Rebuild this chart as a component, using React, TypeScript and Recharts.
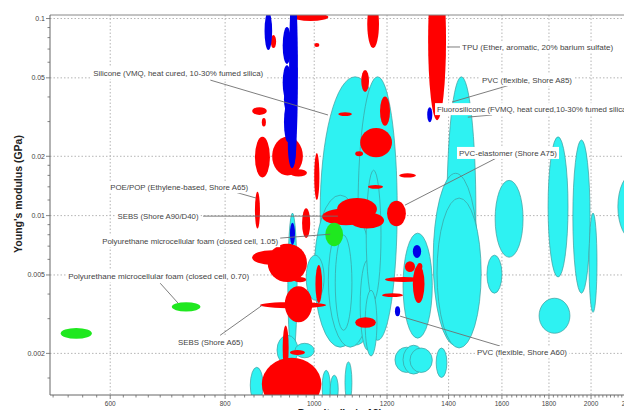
import React from "react";
import {
  ScatterChart,
  XAxis,
  YAxis,
  CartesianGrid,
  ReferenceArea,
  ReferenceLine,
  ReferenceDot,
} from "recharts";

// Each ellipse: [density low, density high, modulus low, modulus high]  (kg/m^3, GPa)
type Box = [number, number, number, number];

const cyanEllipses: Box[] = [
  [1015, 1209, 0.0022, 0.0506],
  [1116, 1231, 0.00233, 0.0506],
  [1000, 1139, 0.00215, 0.0127],
  [1036, 1156, 0.00215, 0.0104],
  [1054, 1099, 0.00262, 0.00796],
  [1122, 1164, 0.00208, 0.00594],
  [1139, 1182, 0.00372, 0.017],
  [1136, 1170, 0.00194, 0.00418],
  [1249, 1344, 0.00239, 0.00815],
  [980, 1025, 0.00372, 0.0063],
  [936, 958, 0.00194, 0.0103],
  [911, 960, 0.00175, 0.00247],
  [953, 1000, 0.0019, 0.00225],
  [852, 880, 0.00112, 0.0017],
  [1020, 1041, 0.00112, 0.00164],
  [1041, 1062, 0.00112, 0.00155],
  [1080, 1099, 0.00112, 0.00181],
  [1394, 1499, 0.0022, 0.0506],
  [1347, 1507, 0.0022, 0.0164],
  [1360, 1519, 0.00213, 0.01228],
  [1573, 1687, 0.00615, 0.0151],
  [1541, 1600, 0.00404, 0.0063],
  [1796, 1888, 0.00488, 0.0251],
  [1911, 1995, 0.00404, 0.0242],
  [1990, 2030, 0.00323, 0.0103],
  [1756, 1897, 0.00253, 0.00381],
  [2139, 2318, 0.00751, 0.0164],
  [1224, 1297, 0.0016, 0.00215],
  [1249, 1317, 0.00157, 0.0022],
  [1271, 1344, 0.0016, 0.00213],
  [1357, 1394, 0.00151, 0.00213],
];

const redEllipses: Box[] = [
  [1330, 1391, 0.0305, 0.198],
  [948, 1036, 0.0971, 0.1066],
  [1000, 1013, 0.0716, 0.0751],
  [897, 909, 0.0708, 0.0825],
  [856, 888, 0.0324, 0.0355],
  [877, 886, 0.0283, 0.0313],
  [862, 895, 0.0156, 0.0251],
  [900, 972, 0.016, 0.0251],
  [941, 982, 0.0158, 0.0172],
  [1000, 1013, 0.012, 0.0208],
  [862, 873, 0.0086, 0.0132],
  [970, 990, 0.00771, 0.0109],
  [856, 946, 0.00562, 0.00668],
  [890, 982, 0.0046, 0.0072],
  [950, 980, 0.00459, 0.00488],
  [1003, 1020, 0.0036, 0.00562],
  [929, 995, 0.00288, 0.00438],
  [873, 1030, 0.00339, 0.00364],
  [924, 938, 0.00164, 0.00277],
  [941, 977, 0.00196, 0.00208],
  [877, 1018, 0.00103, 0.0019],
  [918, 932, 0.00112, 0.0016],
  [1122, 1215, 0.0198, 0.0278],
  [1108, 1130, 0.02, 0.0212],
  [1179, 1209, 0.0286, 0.0402],
  [1125, 1147, 0.0424, 0.0548],
  [1142, 1176, 0.0708, 0.124],
  [1062, 1099, 0.032, 0.0335],
  [1237, 1290, 0.0156, 0.0164],
  [1144, 1188, 0.0137, 0.0143],
  [1059, 1170, 0.00949, 0.0123],
  [1020, 1150, 0.00894, 0.0109],
  [1094, 1191, 0.0086, 0.0104],
  [1200, 1258, 0.00884, 0.0119],
  [1255, 1287, 0.00517, 0.00587],
  [1280, 1318, 0.0036, 0.00562],
  [1194, 1311, 0.0046, 0.00488],
  [1185, 1249, 0.00386, 0.00404],
  [1108, 1167, 0.0027, 0.00305],
  [1294, 1311, 0.00529, 0.00575],
];

const blueEllipses: Box[] = [
  [883, 900, 0.0692, 0.108],
  [939, 960, 0.018, 0.157],
  [924, 944, 0.0588, 0.0905],
  [924, 944, 0.0386, 0.058],
  [927, 944, 0.0335, 0.0454],
  [927, 946, 0.0236, 0.0377],
  [936, 956, 0.0174, 0.0305],
  [941, 953, 0.0071, 0.0092],
  [1327, 1344, 0.0298, 0.0355],
  [1280, 1307, 0.0061, 0.0071],
  [1224, 1240, 0.00309, 0.00347],
];

const greenEllipses: Box[] = [
  [1028, 1075, 0.00699, 0.0092],
  [700, 752, 0.00326, 0.00364],
  [530, 573, 0.00237, 0.00269],
];

// label text, anchor (density, modulus), leader line from -> to
const labelTexts = [
  "Silicone (VMQ, heat cured, 10-30% fumed silica)",
  "TPU (Ether, aromatic, 20% barium sulfate)",
  "PVC (flexible, Shore A85)",
  "Fluorosilicone (FVMQ, heat cured,10-30% fumed silica)",
  "PVC-elastomer (Shore A75)",
  "POE/POP (Ethylene-based, Shore A65)",
  "SEBS (Shore A90/D40)",
  "Polyurethane microcellular foam (closed cell, 1.05)",
  "Polyurethane microcellular foam (closed cell, 0.70)",
  "SEBS (Shore A65)",
  "PVC (flexible, Shore A60)",
];
const labelAnchors: [number, number][] = [
  [575, 0.0529],
  [1448, 0.0717],
  [1522, 0.0487],
  [1360, 0.0347],
  [1437, 0.0208],
  [600, 0.01395],
  [611, 0.00994],
  [588, 0.00742],
  [540, 0.00493],
  [711, 0.00228],
  [1503, 0.00203],
];
const leaderLines: [number, number, number, number][] = [
  [771, 0.0487, 1035, 0.0324],
  [1394, 0.0717, 1441, 0.0717],
  [1633, 0.046, 1412, 0.0377],
  [1561, 0.0324, 1469, 0.0316],
  [1585, 0.0198, 1255, 0.0113],
  [814, 0.0133, 865, 0.01227],
  [757, 0.00994, 1061, 0.00994],
  [918, 0.00769, 1041, 0.00805],
  [680, 0.00454, 711, 0.0036],
  [790, 0.00247, 878, 0.00351],
  [1592, 0.00218, 1240, 0.00309],
];
// measured text widths in px (style)
const labelWidths = [170, 151, 90, 192, 98, 138, 81, 176, 181, 65, 90];

const xMajor = [600, 800, 1000, 1200, 1400, 1600, 1800, 2000, 2200];
const yMajor = [0.002, 0.005, 0.01, 0.02, 0.05, 0.1];
const yMinor = [
  0.0015, 0.003, 0.004, 0.006, 0.007, 0.008, 0.009, 0.012, 0.014, 0.016,
  0.018, 0.03, 0.04, 0.06, 0.07, 0.08, 0.09,
];
const xMinor = Array.from({ length: 85 }, (_, i) => 520 + i * 20).filter(
  (v) => !xMajor.includes(v)
);

const X_DOMAIN: [number, number] = [516, 2216];
const Y_DOMAIN: [number, number] = [0.00123, 0.1042];

// plot box in pixels (margin + axis sizes below)
const PLOT = { x: 50, y: 15, w: 582, h: 380 };

const FONT = "'Liberation Sans', Arial, sans-serif";
const CYAN = "#2ef2f2";
const CYAN_EDGE = "#3f9c9c";
const RED = "#ff0000";
const BLUE = "#0000e8";
const GREEN = "#1fe81f";

const ellipse = (fill: string, stroke: string | undefined, id: string) => (p: any) => {
  const { x, y, width, height } = p;
  return (
    <g>
      <defs>
        <clipPath id={id}>
          <rect x={PLOT.x} y={PLOT.y} width={PLOT.w} height={PLOT.h} />
        </clipPath>
      </defs>
      <ellipse
        clipPath={`url(#${id})`}
        cx={x + width / 2}
        cy={y + height / 2}
        rx={Math.abs(width) / 2}
        ry={Math.abs(height) / 2}
        fill={fill}
        stroke={stroke || "none"}
        strokeWidth={stroke ? 0.7 : 0}
      />
    </g>
  );
};

const XTick = (props: any) => {
  const { x, y, payload } = props;
  const major = xMajor.includes(payload.value);
  return (
    <g>
      <line x1={x} x2={x} y1={y} y2={y + (major ? 4 : 2.5)} stroke="#666" strokeWidth={0.8} />
      {major && (
        <text x={x} y={y + 10.5} textAnchor="middle" fontSize={6.5} fill="#444" fontFamily={FONT}>
          {payload.value}
        </text>
      )}
    </g>
  );
};

const YTick = (props: any) => {
  const { x, y, payload } = props;
  const major = yMajor.includes(payload.value);
  return (
    <g>
      <line x1={x - (major ? 4 : 2.5)} x2={x} y1={y} y2={y} stroke="#666" strokeWidth={0.8} />
      {major && (
        <text x={x - 5} y={y + 2.5} textAnchor="end" fontSize={7} fill="#444" fontFamily={FONT}>
          {String(payload.value)}
        </text>
      )}
    </g>
  );
};

const renderGroup = (boxes: Box[], fill: string, stroke: string | undefined, prefix: string) =>
  boxes.map((b, i) => (
    <ReferenceArea
      key={prefix + i}
      x1={b[0]}
      x2={b[1]}
      y1={b[2]}
      y2={b[3]}
      ifOverflow="visible"
      shape={ellipse(fill, stroke, "clip-" + prefix + i)}
    />
  ));

export default function App() {
  return (
    <div style={{ margin: -8, background: "#fff" }}>
      <ScatterChart width={632} height={418} margin={{ top: 15, right: 0, bottom: 0, left: 0 }}>
        <CartesianGrid
          stroke="#b5b5b5"
          strokeDasharray="1.5 2"
          horizontalValues={yMajor}
          verticalValues={xMajor}
        />
        <XAxis
          type="number"
          dataKey="x"
          scale="log"
          domain={X_DOMAIN}
          allowDataOverflow
          ticks={[...xMajor, ...xMinor].sort((a, b) => a - b)}
          interval={0}
          tick={<XTick />}
          tickLine={false}
          tickSize={0}
          tickMargin={0}
          height={23}
          axisLine={{ stroke: "#666" }}
          label={() => (
            <text x={340} y={416.5} textAnchor="middle" fontSize={10.5} fontWeight="bold" fill="#222" fontFamily={FONT}>
              Density (kg/m^3)
            </text>
          )}
        />
        <YAxis
          type="number"
          dataKey="y"
          scale="log"
          domain={Y_DOMAIN}
          allowDataOverflow
          ticks={[...yMajor, ...yMinor].sort((a, b) => a - b)}
          interval={0}
          tick={<YTick />}
          tickLine={false}
          tickSize={0}
          tickMargin={0}
          width={50}
          axisLine={{ stroke: "#666" }}
          label={() => (
            <text
              x={22}
              y={194}
              transform="rotate(-90 22 194)"
              textAnchor="middle"
              fontSize={10.5}
              fontWeight="bold"
              fill="#222"
              fontFamily={FONT}
            >
              Young's modulus (GPa)
            </text>
          )}
        />
        <ReferenceLine y={Y_DOMAIN[1]} stroke="#888" ifOverflow="visible" />

        {renderGroup(cyanEllipses, CYAN, CYAN_EDGE, "c")}
        {renderGroup(redEllipses, RED, undefined, "r")}
        {renderGroup(blueEllipses, BLUE, undefined, "b")}
        {renderGroup(greenEllipses, GREEN, undefined, "g")}

        {leaderLines.map((l, i) => (
          <ReferenceLine
            key={"l" + i}
            segment={[
              { x: l[0], y: l[1] },
              { x: l[2], y: l[3] },
            ]}
            stroke="#6f6f6f"
            strokeWidth={0.9}
            ifOverflow="visible"
          />
        ))}

        {labelTexts.map((t, i) => (
          <ReferenceDot
            key={"t" + i}
            x={labelAnchors[i][0]}
            y={labelAnchors[i][1]}
            r={0}
            ifOverflow="visible"
            shape={(p: any) => (
              <g>
                <rect x={p.cx - 2} y={p.cy - 6} width={labelWidths[i] + 4} height={12} fill="#fff" />
                <text
                  x={p.cx}
                  y={p.cy + 2.6}
                  fontSize={7.5}
                  fill="#444"
                  fontFamily={FONT}
                  textLength={labelWidths[i]}
                  lengthAdjust="spacingAndGlyphs"
                >
                  {t}
                </text>
              </g>
            )}
          />
        ))}
      </ScatterChart>
    </div>
  );
}
